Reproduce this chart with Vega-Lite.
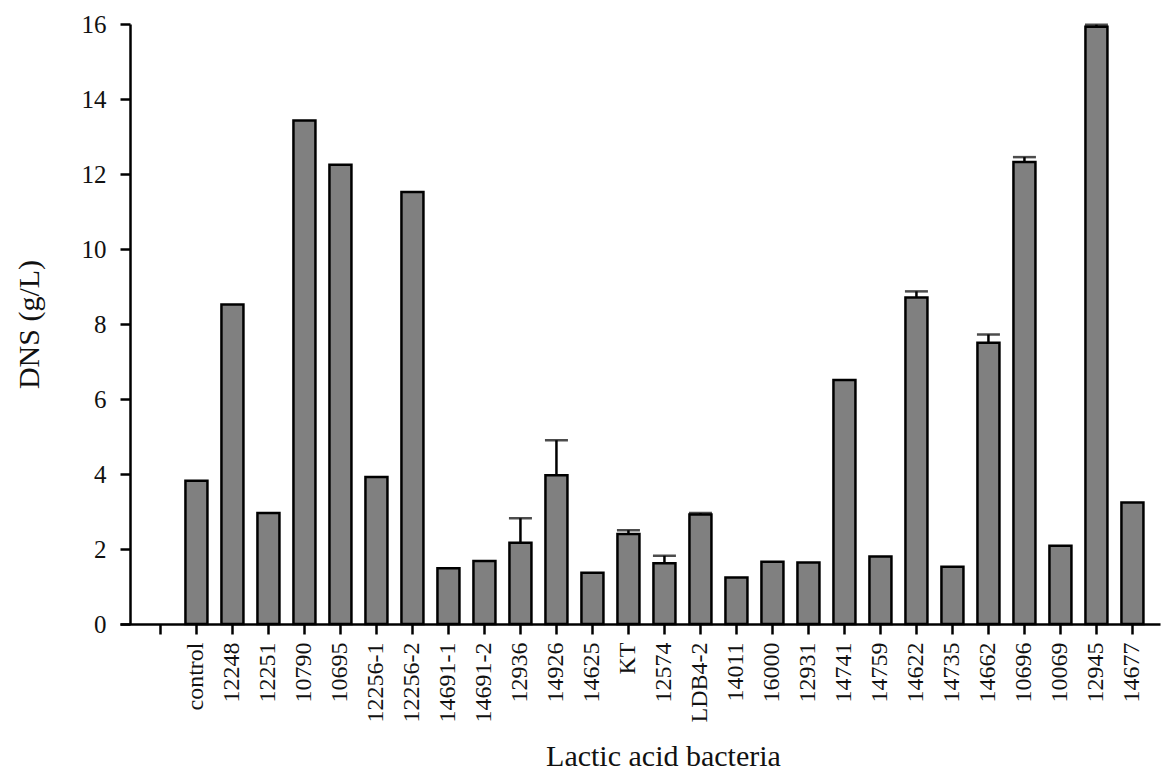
{
  "$schema": "https://vega.github.io/schema/vega-lite/v6.json",
  "autosize": {"type": "none"},
  "padding": {"left": 120, "top": 24, "right": 3, "bottom": 152},
  "width": 1040,
  "height": 600,
  "background": "white",
  "config": {
    "view": {"stroke": null},
    "font": "Liberation Serif",
    "axis": {
      "labelFont": "Liberation Serif",
      "titleFont": "Liberation Serif",
      "labelColor": "#111111",
      "titleColor": "#111111",
      "domainColor": "#000000",
      "tickColor": "#000000",
      "domainWidth": 2.5,
      "tickWidth": 2.5,
      "tickSize": 10,
      "grid": false,
      "titleFontWeight": "normal"
    }
  },
  "data": {
    "values": [
      {"strain": "control", "dns": 3.82},
      {"strain": "12248", "dns": 8.52},
      {"strain": "12251", "dns": 2.96},
      {"strain": "10790", "dns": 13.43},
      {"strain": "10695", "dns": 12.25},
      {"strain": "12256-1", "dns": 3.92},
      {"strain": "12256-2", "dns": 11.52},
      {"strain": "14691-1", "dns": 1.49},
      {"strain": "14691-2", "dns": 1.68},
      {"strain": "12936", "dns": 2.17, "hi": 2.82},
      {"strain": "14926", "dns": 3.97, "hi": 4.9},
      {"strain": "14625", "dns": 1.37},
      {"strain": "KT", "dns": 2.4, "hi": 2.5},
      {"strain": "12574", "dns": 1.62, "hi": 1.82},
      {"strain": "LDB4-2", "dns": 2.92, "hi": 2.96},
      {"strain": "14011", "dns": 1.24},
      {"strain": "16000", "dns": 1.66},
      {"strain": "12931", "dns": 1.64},
      {"strain": "14741", "dns": 6.51},
      {"strain": "14759", "dns": 1.8},
      {"strain": "14622", "dns": 8.71, "hi": 8.87},
      {"strain": "14735", "dns": 1.53},
      {"strain": "14662", "dns": 7.5, "hi": 7.72},
      {"strain": "10696", "dns": 12.32, "hi": 12.45},
      {"strain": "10069", "dns": 2.09},
      {"strain": "12945", "dns": 15.93, "hi": 15.98},
      {"strain": "14677", "dns": 3.24}
    ]
  },
  "encoding": {
    "x": {
      "field": "strain",
      "type": "nominal",
      "sort": null,
      "scale": {
        "domain": [" ", "control", "12248", "12251", "10790", "10695", "12256-1", "12256-2", "14691-1", "14691-2", "12936", "14926", "14625", "KT", "12574", "LDB4-2", "14011", "16000", "12931", "14741", "14759", "14622", "14735", "14662", "10696", "10069", "12945", "14677"],
        "paddingInner": 0.389,
        "paddingOuter": 0.639,
        "align": 0.64
      },
      "axis": {
        "title": "Lactic acid bacteria",
        "titleFontSize": 30,
        "titleX": 543,
        "titleY": 141,
        "titleBaseline": "alphabetic",
        "labelFontSize": 24,
        "labelAngle": -90,
        "labelAlign": "right",
        "labelBaseline": "middle",
        "labelPadding": 8
      }
    }
  },
  "layer": [
    {
      "mark": {"type": "bar", "fill": "#808080", "stroke": "#000000", "strokeWidth": 2.5},
      "encoding": {
        "y": {
          "field": "dns",
          "type": "quantitative",
          "scale": {"domain": [0, 16], "nice": false},
          "axis": {
            "title": "DNS (g/L)",
            "titleFontSize": 30,
            "titleX": -101,
            "titleY": 300,
            "titleAlign": "center",
            "titleBaseline": "middle",
            "titleAngle": -90,
            "values": [0, 2, 4, 6, 8, 10, 12, 14, 16],
            "labelFontSize": 25,
            "labelPadding": 14,
            "offset": -10
          }
        }
      }
    },
    {
      "transform": [{"filter": "datum.hi != null"}],
      "mark": {"type": "rule", "color": "#000000", "strokeWidth": 2.5},
      "encoding": {
        "y": {"field": "dns", "type": "quantitative"},
        "y2": {"field": "hi"}
      }
    },
    {
      "transform": [{"filter": "datum.hi != null"}],
      "mark": {"type": "tick", "color": "#000000", "thickness": 2.5, "size": 23},
      "encoding": {
        "y": {"field": "hi", "type": "quantitative"}
      }
    }
  ]
}
